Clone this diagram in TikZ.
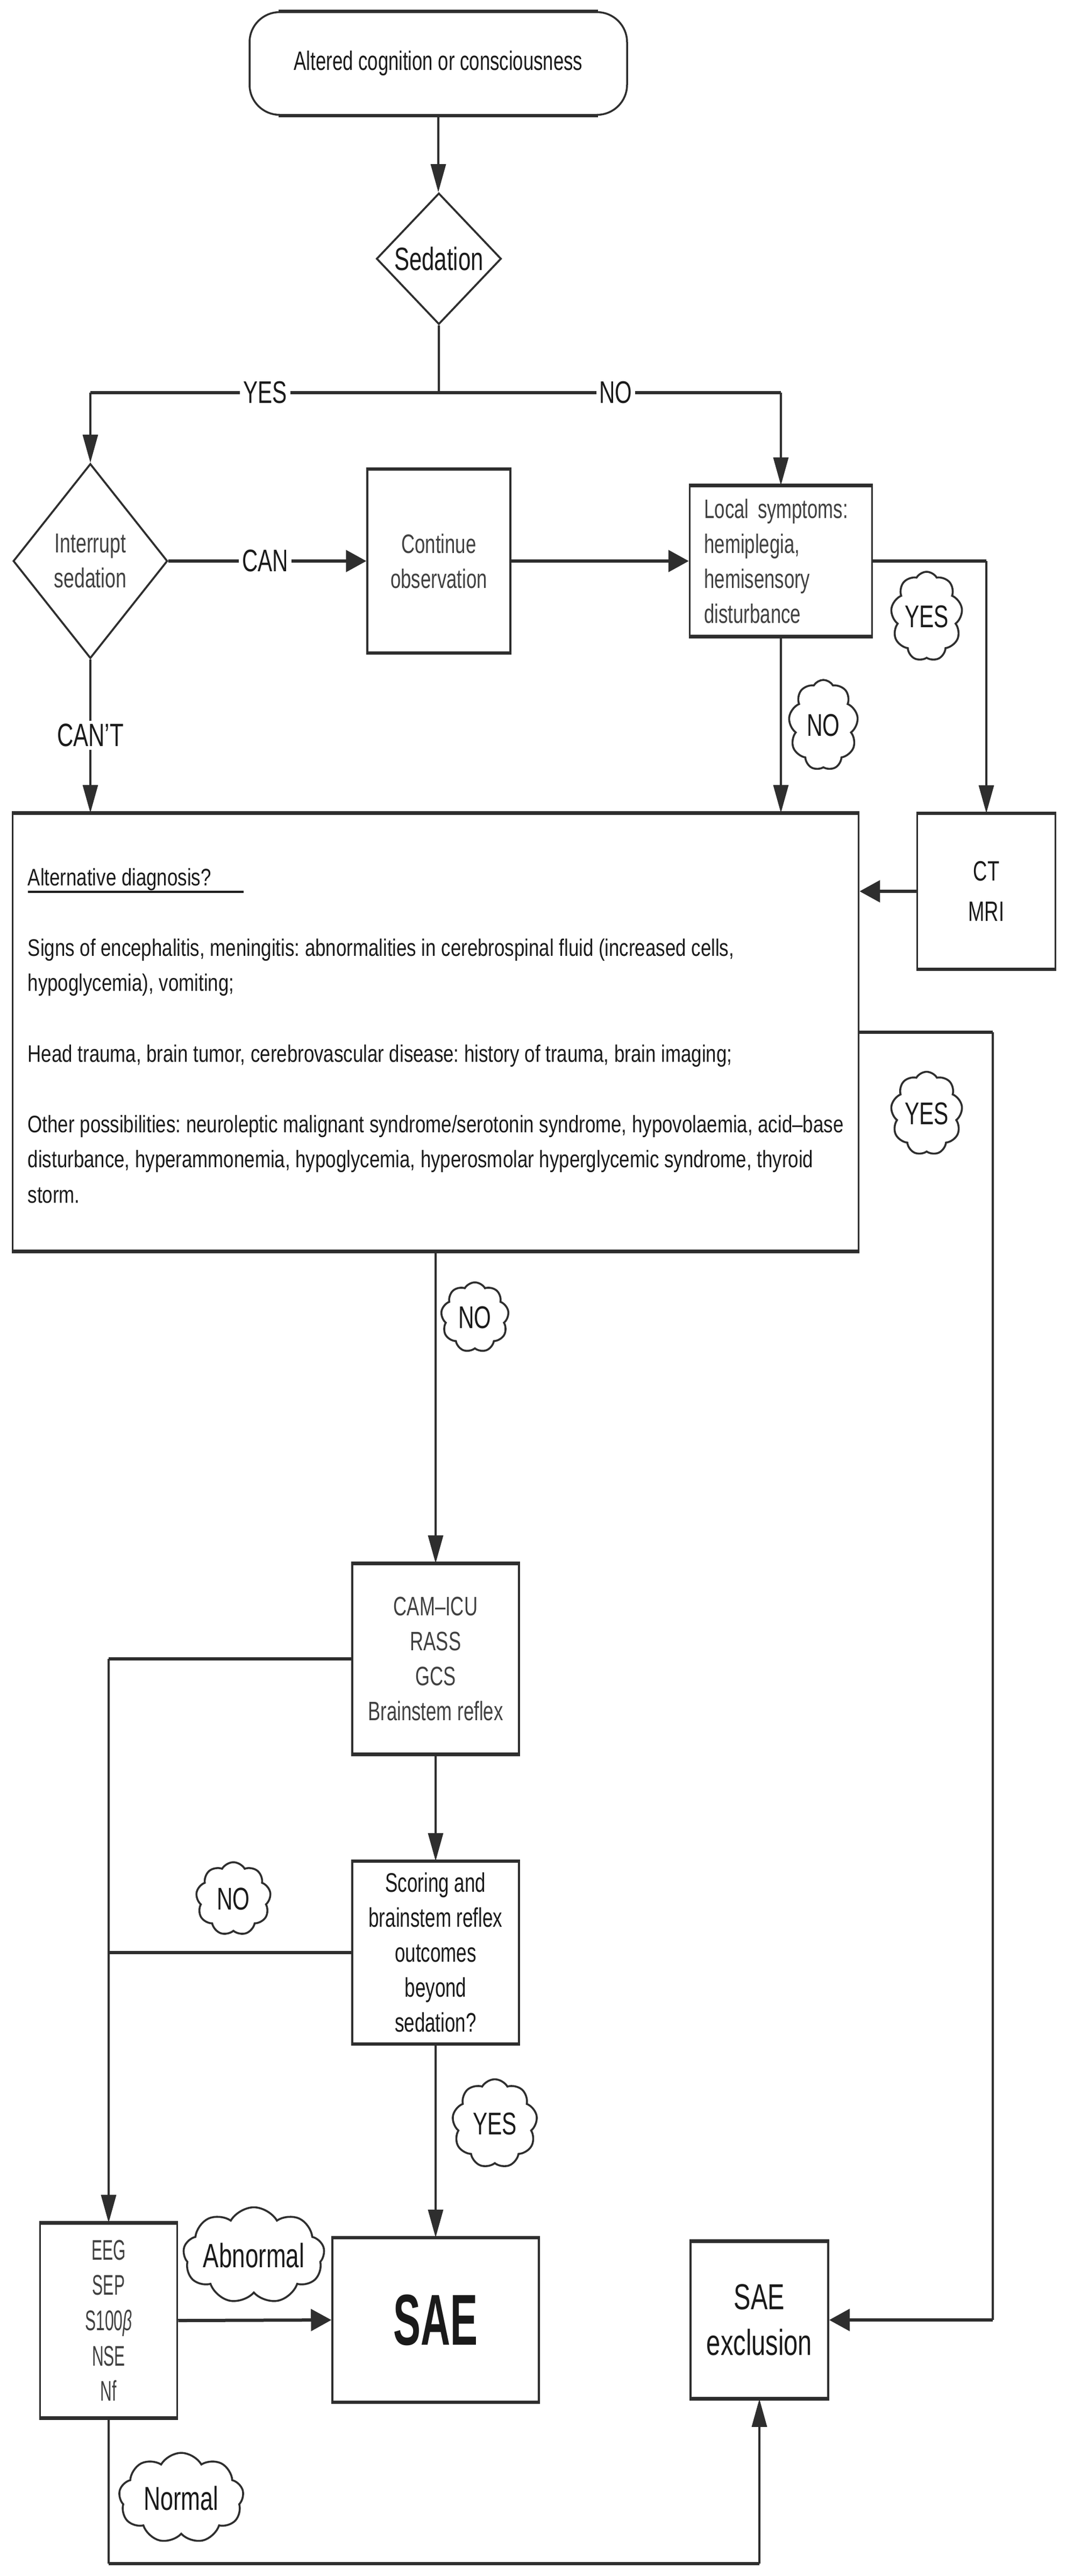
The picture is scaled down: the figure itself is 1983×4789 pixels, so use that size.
\documentclass[tikz,border=0pt]{standalone}
\usepackage{fontspec}
\setmainfont{Liberation Sans}[FakeStretch=0.7]
\newfontfamily\altf{Liberation Sans}[FakeStretch=0.785,Ligatures=TeX]
\newfontfamily\nrw{Liberation Sans}[FakeStretch=0.57,Ligatures=TeX]
\usetikzlibrary{shapes.geometric,shapes.symbols,arrows.meta}
\definecolor{ln}{HTML}{2E2E2E}
\definecolor{tg}{HTML}{404040}
\definecolor{tb}{HTML}{1A1A1A}
\frenchspacing
\newcommand{\fs}[2]{\fontsize{#1}{#2}\selectfont}
\newcommand{\hedge}[1]{\draw[hl] (#1.north west) -- (#1.north east) (#1.south west) -- (#1.south east);}
\tikzset{
  vl/.style={draw=ln,line width=0.875pt},
  hl/.style={draw=ln,line width=1.5pt},
  va/.style={-{Triangle[length=13pt,width=7pt]}},
  ha/.style={-{Triangle[length=9.5pt,width=10pt]}},
  bx/.style={draw=ln,line width=0.875pt,rectangle,inner sep=0pt,align=center,text=tb,font=\frenchspacing\fs{12.4pt}{16.25pt}},
  dia/.style={draw=ln,line width=0.9pt,diamond,inner sep=0pt,align=center},
  lab/.style={fill=white,inner sep=1.5pt,text=tb,font=\fs{14.5pt}{16pt}},
  cld/.style={draw=ln,line width=0.9pt,fill=white,cloud,cloud puffs=9,cloud puff arc=120,cloud ignores aspect,inner sep=0pt,text=tb,font=\fs{14.6pt}{16pt}}
}
\begin{document}
\begin{tikzpicture}[x=0.25pt,y=-0.25pt]
\useasboundingbox[fill=white] (0,0) rectangle (1983,4789);
% nodes
\node[draw=ln,line width=0.875pt,rounded corners=14pt,minimum width=175.5pt,minimum height=47.75pt,inner sep=0pt,text=tb,font=\fs{12.4pt}{16pt}] (top) at (815,118) {Altered cognition or consciousness};
\node[dia,minimum width=58pt,minimum height=61pt,text=tb,font=\fs{15pt}{16pt}] (sed) at (816,481) {Sedation};
\node[dia,minimum width=71.75pt,minimum height=90.5pt,text=tg,font=\fs{12.75pt}{16.25pt}] (int) at (168,1043) {Interrupt\\sedation};
\node[bx,minimum width=66.5pt,minimum height=84.75pt,text=tg] (cont) at (816,1043) {Continue\\observation};
\node[bx,minimum width=84.75pt,minimum height=69.5pt,text=tg,align=left,text width=71.25pt] (loc) at (1452,1043) {Local symptoms:\\hemiplegia,\\hemisensory\\disturbance};
\node[bx,minimum width=64.25pt,minimum height=71.75pt,font=\fs{13pt}{18.75pt}] (ct) at (1834,1657) {CT\\MRI};
\node[bx,minimum width=393.25pt,minimum height=203pt] (alt) at (810,1919) {};
\node[anchor=north west,align=left,inner sep=0pt,text=tb,font=\altf\frenchspacing\fs{11.1pt}{16.4pt}] (alttxt) at (51,1613) {\makebox[0pt][l]{\rule[-3.55pt]{100.25pt}{1.1pt}}Alternative diagnosis?\\[16.4pt]
Signs of encephalitis, meningitis: abnormalities in cerebrospinal fluid (increased cells,\\
hypoglycemia), vomiting;\\[16.4pt]
Head trauma, brain tumor, cerebrovascular disease: history of trauma, brain imaging;\\[16.4pt]
Other possibilities: neuroleptic malignant syndrome/serotonin syndrome, hypovolaemia, acid–base\\
disturbance, hyperammonemia, hypoglycemia, hyperosmolar hyperglycemic syndrome, thyroid\\
storm.};
\node[bx,minimum width=77.5pt,minimum height=88pt,text=tg] (cam) at (810,3084) {CAM–ICU\\RASS\\GCS\\Brainstem reflex};
\node[bx,minimum width=77.5pt,minimum height=84.25pt,font=\fs{12.5pt}{16.25pt}] (score) at (810,3630) {Scoring and\\brainstem reflex\\outcomes\\beyond\\sedation?};
\node[bx,minimum width=63.75pt,minimum height=90pt,text=tg,font=\nrw\fs{13.2pt}{16.4pt}] (eeg) at (202,4314) {EEG\\SEP\\S100{\itshape β}\\NSE\\Nf};
\node[bx,minimum width=96pt,minimum height=75.75pt,font=\nrw\fs{33.5pt}{36pt}\bfseries] (sae) at (810,4313) {SAE};
\node[bx,minimum width=64pt,minimum height=72.5pt,font=\fs{16.8pt}{21.25pt}] (saex) at (1412,4313) {SAE\\exclusion};
\hedge{cont}\hedge{loc}\hedge{ct}\hedge{alt}\hedge{cam}\hedge{score}\hedge{eeg}\hedge{sae}\hedge{saex}
\draw[hl] ([xshift=14pt]top.north west) -- ([xshift=-14pt]top.north east);
\draw[hl] ([xshift=14pt]top.south west) -- ([xshift=-14pt]top.south east);
% coordinates
\coordinate (j1) at (816,730);
\coordinate (j1l) at (168,730);
\coordinate (j1r) at (1452,730);
\coordinate (j2) at (1834,1043);
\coordinate (j3) at (1846,1919);
\coordinate (j4) at (1846,4313);
\coordinate (j5) at (202,3084);
\coordinate (j6) at (202,4766);
\coordinate (j7) at (1412,4766);
% connectors
\draw[vl,va] (top.south) -- (top.south |- sed.north);
\draw[vl] (sed.south) -- (j1);
\draw[hl] (j1l) -- (j1r);
\draw[vl,va] (j1l) -- (int.north);
\draw[vl,va] (j1r) -- (loc.north);
\draw[hl,ha] (int.east) -- (cont.west);
\draw[hl,ha] (cont.east) -- (loc.west);
\draw[vl,va] (int.south) -- (int.south |- alt.north);
\draw[vl,va] (loc.south) -- (loc.south |- alt.north);
\draw[hl] (loc.east) -- (j2);
\draw[vl,va] (j2) -- (ct.north);
\draw[hl,ha] (ct.west) -- (ct.west -| alt.east);
\draw[hl] (alt.east) -- (j3);
\draw[vl] (j3) -- (j4);
\draw[hl,ha] (j4) -- (saex.east);
\draw[vl,va] (alt.south) -- (cam.north);
\draw[hl] (cam.west) -- (j5);
\draw[vl,va] (j5) -- (eeg.north);
\draw[vl,va] (cam.south) -- (score.north);
\draw[hl] (score.west) -- (score.west -| j5);
\draw[vl,va] (score.south) -- (sae.north);
\draw[hl,ha] (eeg.east) -- (sae.west);
\draw[vl] (eeg.south) -- (j6);
\draw[hl] (j6) -- (j7);
\draw[vl,va] (j7) -- (saex.south);
% labels
\node[lab] (lyes) at (493,730) {YES};
\node[lab] (lno) at (1145,730) {NO};
\node[lab] (lcan) at (493,1043) {CAN};
\node[lab,font=\fs{15pt}{16pt}] (lcant) at (168,1367) {CAN'T};
% clouds
\node[cld,minimum width=33.25pt,minimum height=41.5pt] (c1) at (1723,1146) {YES};
\node[cld,minimum width=32.25pt,minimum height=42pt] (c2) at (1531,1348) {NO};
\node[cld,minimum width=33.25pt,minimum height=38.75pt] (c3) at (1723,2070) {YES};
\node[cld,minimum width=31.5pt,minimum height=32.5pt] (c4) at (883,2449) {NO};
\node[cld,minimum width=34.75pt,minimum height=34pt] (c5) at (434,3530) {NO};
\node[cld,minimum width=39.5pt,minimum height=41.25pt] (c6) at (920,3948) {YES};
\node[cld,minimum width=60pt,minimum height=44.75pt,font=\fs{15.7pt}{16pt}] (c7) at (472,4193) {Abnormal};
\node[cld,minimum width=58pt,minimum height=42pt,font=\fs{15.4pt}{16pt}] (c8) at (337,4644) {Normal};
\end{tikzpicture}
\end{document}
